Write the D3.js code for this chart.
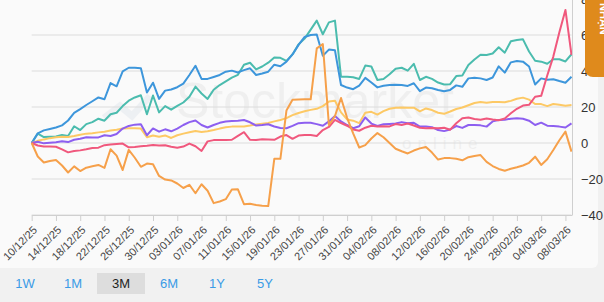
<!DOCTYPE html>
<html>
<head>
<meta charset="utf-8">
<script src="https://cdn.jsdelivr.net/npm/d3@7"></script>
<style>
  html, body { margin: 0; padding: 0; background: #f1f1f1; }
  svg { display: block; font-family: "Liberation Sans", Arial, sans-serif; }
</style>
</head>
<body>
<div id="chart"></div>
<script>
// daily % change since 10/12/25, one value per calendar day up to 09/03/26
const startDay = "10/12/25", endDay = "09/03/26"

const blue = [0,5.4,7,7.8,8.6,9.8,12.5,16.7,18.8,21.1,23.2,25.3,24.3,33.3,31.5,39.8,41.8,41.8,41.5,28,
  33.5,24.5,29.1,29.7,31,33,37.8,42.9,35.6,35.6,36.7,37.8,39.6,40.2,39.2,40.5,41.5,37.8,38.6,39.6,
  43.5,42.6,45.2,49.2,54.5,58.9,60,60.3,48.5,51.9,51.5,32.2,30.8,29.9,31.9,36.2,33.6,30.9,31.8,32.2,
  32.4,32.2,31.7,33.2,28.8,30.8,30.4,29.4,28.8,29.5,32,31.2,35.9,36.3,35.9,35,36.4,42.6,39.1,44.8,
  45.6,45.2,42.5,32.5,35.9,35.1,35.4,34.4,33.5,36.8]
const teal = [0,5.2,3.3,3.5,3.6,4.4,3.9,9.3,7.2,10.5,11.6,13.5,12.4,16,16.8,20.5,23.5,25.3,26.5,16,
  26.4,17,20.5,18.5,20.6,22.5,25.7,31.3,27.5,24.5,29.6,32.2,34.2,36.3,37.9,43.5,44.6,40.9,42.5,44.6,
  47.5,47.3,45.6,49.2,54.8,58,63,68,60.4,67,68,36.8,36.8,36.5,35.6,43,42.5,35,35.6,38.2,
  41.3,41.8,40.2,44,35,36.8,35.6,33.6,32.5,32.7,37.2,37.5,43.3,46.4,49,48.9,49.7,53.2,50.2,56.5,
  57.2,57.6,50.8,45.7,45.2,44,46.5,46.5,45.3,49.3]
const yellow = [0,1.2,2,2.7,3.2,3.5,3.3,3.9,4.6,5.2,5.4,5.9,6.3,6.9,7.4,8,8.2,8.2,8,3.2,
  4.2,3.5,4.2,2.8,4.3,5.2,6,6.7,6.1,6.5,7.2,8,8.7,9.1,9.2,9.2,9.7,10.3,10.7,11.1,
  12,12.8,13.8,15.5,16.7,17.6,18.4,19,20.5,23,23.5,17,13.1,12.4,11,16.8,17.3,15.8,17.7,19,
  19.6,19.7,19.6,19.6,17.6,19.2,18.3,16.8,16.2,17.5,18.9,19.7,21,22.2,22.8,22.4,22.8,22.8,22.6,23.4,
  24.6,25.2,24.1,21.7,21.6,20.5,21.7,21.2,20.7,21.1]
const purple = [0,0.7,-0.2,0.1,0.4,1,0.5,1.8,2.4,3.2,3,3.1,4.3,3.9,5,8,9.5,10.2,10.4,4.3,
  8.1,6.3,7.6,6.5,8,10,11.6,12.5,10,8.6,10,11.2,11.9,12.2,12.4,12.8,11.5,9.7,10,10.4,
  9.2,8.3,8.2,9.5,11,11.3,11.3,10.5,9.6,12,15,12,10,8.2,9.3,14.2,10.8,9.5,10.4,10.6,
  10.8,11.6,11,11.2,9.1,9.1,8.8,7.2,6.6,7.5,9.4,8.4,10,10,9.8,9.1,12,12.8,12.9,13.5,
  13.7,13.5,12.4,10,11.3,9.6,9.4,9.1,8.6,10.9]
const pink = [0,-1.4,-2,-2,-2.1,-3.5,-5.2,-4.5,-4.1,-3.5,-2.8,-2.6,-1.2,-0.8,-0.5,-0.3,-2.4,-2.2,-1.8,-1.5,
  -1.1,-1.4,-1.3,-2.1,-2.6,-2,-0.3,-1.8,-4.4,0.9,1.6,1.7,1.7,1.8,4,6,1.8,1.7,2.1,2,
  1.8,3.6,4.4,2.3,4.1,4.4,4.4,3.9,7.2,8.9,12.8,11.1,9.6,7.5,6.8,8.5,9.6,9.2,9.3,9.2,
  10.5,10,10.8,9.7,8.5,8.2,8.3,8.2,8.5,7.4,11,13.8,14.2,13.3,12.9,13.6,13,12.6,13.6,16.5,
  19,20.8,21.2,25.7,26.2,37.5,48,61.5,73.9,48.9]
const orange = [0,-7.5,-10.8,-10,-9.4,-12.5,-16.4,-13,-15.6,-13.7,-12.9,-12.2,-13.8,-3.5,-7,-15,-3.8,-8.2,-13.2,-11.4,
  -11.8,-18.3,-20.3,-20.8,-22.5,-25,-23.2,-27.9,-22.9,-26.5,-33.4,-32.5,-31.2,-25.8,-25.7,-34,-33.7,-34.4,-34.8,-35,
  -8.8,-8.8,18,24,24.2,24.3,24.3,52.6,55,10,15,25,14,5.4,-2.5,-1.2,2.5,5.5,3.2,0,
  -3.2,-4.6,-5.8,-4.2,-3,-2.2,-5.3,-9.2,-8.4,-8.4,-8.8,-9.6,-7.9,-7.2,-6.7,-10.5,-12.8,-14.4,-15.4,-14.3,
  -13.5,-12.5,-11,-7.6,-12.2,-9,-3.9,1.5,6.3,-4.8]

const seriesColors = ["#4bbcae", "#3d96db", "#fdc965", "#8d5ff0", "#f0587d", "#f6a04a"]
const seriesValues = [teal, blue, yellow, purple, pink, orange]

const xTickLabels = ["10/12/25","14/12/25","18/12/25","22/12/25","26/12/25","30/12/25","03/01/26",
  "07/01/26","11/01/26","15/01/26","19/01/26","23/01/26","27/01/26","31/01/26","04/02/26","08/02/26",
  "12/02/26","16/02/26","20/02/26","24/02/26","28/02/26","04/03/26","08/03/26"]
const yTicks = [-40, -20, 0, 20, 40, 60, 80]
const ranges = ["1W", "1M", "3M", "6M", "1Y", "5Y"]
const activeRange = "3M"

const width = 604, height = 302
const parse = d3.timeParse("%d/%m/%y")
const fmt = d3.timeFormat("%d/%m/%y")
const dates = d3.timeDay.range(parse(startDay), d3.timeDay.offset(parse(endDay), 1))

const svg = d3.select("#chart").append("svg")
    .attr("width", width)
    .attr("height", height)

// card + button strip
svg.append("rect").attr("x", 0).attr("y", 0).attr("width", width).attr("height", height).attr("fill", "#f1f1f1")
svg.append("rect").attr("x", -10).attr("y", -10).attr("width", 608).attr("height", 278)
    .attr("rx", 6).attr("fill", "#fafafa")

const x = d3.scaleTime()
    .domain([dates[0], dates[dates.length - 1]])
    .range([31.7, 571.5])

const y = d3.scaleLinear()
    .domain([-40, 80])
    .range([215, -1])

// watermark
const wm = svg.append("g").attr("opacity", 0.05)
wm.append("path")
    .attr("d", "M104,118 L120,106 L132,116 L150,96")
    .attr("fill", "none").attr("stroke", "#1a4f8a").attr("stroke-width", 7)
wm.append("text").attr("x", 176).attr("y", 118)
    .attr("font-size", 50).attr("fill", "#333").text("Stockmarket")
wm.append("text").attr("x", 402).attr("y", 149)
    .attr("font-size", 17).attr("letter-spacing", 6).attr("fill", "#333").text("online")

// gridlines
svg.append("g")
    .selectAll("line")
    .data(yTicks)
    .join("line")
    .attr("x1", 31.7).attr("x2", 571.5)
    .attr("y1", d => y(d)).attr("y2", d => y(d))
    .attr("stroke", "#dcdcdc")

// lines
const line = d3.line()
    .x((d, i) => x(dates[i]))
    .y(d => y(d))

svg.append("g")
    .selectAll("path")
    .data(seriesValues)
    .join("path")
    .attr("d", line)
    .attr("fill", "none")
    .attr("stroke", (d, i) => seriesColors[i])
    .attr("stroke-width", 2)
    .attr("stroke-linejoin", "round")

// x axis
svg.append("g")
    .attr("transform", `translate(0,${y(-40)})`)
    .call(d3.axisBottom(x)
      .tickValues(xTickLabels.map(parse))
      .tickFormat(fmt)
      .tickSize(6)
      .tickSizeOuter(0))
    .call(g => g.select(".domain").attr("stroke", "#cfcfcf"))
    .call(g => g.selectAll(".tick line").attr("stroke", "#cfcfcf"))
    .call(g => g.selectAll(".tick text")
      .attr("fill", "#444")
      .attr("font-size", 11)
      .attr("font-family", "Liberation Sans, Arial, sans-serif")
      .attr("text-anchor", "end")
      .attr("dy", "0.35em")
      .attr("y", 0)
      .attr("transform", "translate(3,13) rotate(-45)"))

// y axis on the right
svg.append("g")
    .attr("transform", `translate(572,0)`)
    .call(d3.axisRight(y).tickValues(yTicks).tickSize(0).tickPadding(9))
    .call(g => g.select(".domain").attr("stroke", "#cfcfcf"))
    .call(g => g.selectAll(".tick text")
      .attr("fill", "#333")
      .attr("font-size", 13)
      .attr("font-family", "Liberation Sans, Arial, sans-serif"))

// side tab, mostly outside the window
const tab = svg.append("g")
tab.append("rect").attr("x", 585).attr("y", -12).attr("width", 40).attr("height", 89)
    .attr("rx", 8).attr("fill", "#df8a1c")
tab.append("text")
    .attr("transform", "translate(600,3) rotate(90)")
    .attr("fill", "#fff").attr("font-size", 11).attr("font-weight", "bold")
    .text("NHẬN")

// range buttons
const bx = d3.scaleBand().domain(ranges).range([1, 289]).padding(0)
const btn = svg.append("g").selectAll("g")
    .data(ranges)
    .join("g")
    .attr("transform", d => `translate(${bx(d)},273)`)
btn.filter(d => d === activeRange).append("rect")
    .attr("width", bx.bandwidth()).attr("height", 21).attr("fill", "#dddddd")
btn.append("text")
    .attr("x", bx.bandwidth() / 2).attr("y", 15)
    .attr("text-anchor", "middle")
    .attr("font-size", 13)
    .attr("fill", d => d === activeRange ? "#222" : "#3a9be6")
    .text(d => d)
</script>
</body>
</html>
